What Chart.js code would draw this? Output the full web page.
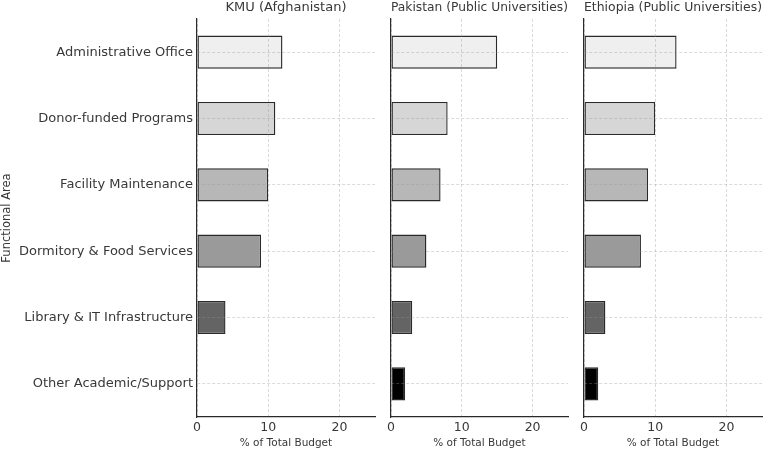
<!DOCTYPE html>
<html>
<head>
<meta charset="utf-8">
<script src="https://cdn.jsdelivr.net/npm/chart.js@4.4.1/dist/chart.umd.min.js"></script>
<style>
  html, body { margin: 0; padding: 0; background: #fff; }
  #wrap { position: relative; width: 768px; height: 451px; }
  #wrap canvas { position: absolute; left: 0; top: 0; }
</style>
</head>
<body>
<div id="wrap">
  <canvas id="c1" width="768" height="451"></canvas>
  <canvas id="c2" width="768" height="451"></canvas>
  <canvas id="c3" width="768" height="451"></canvas>
</div>
<script>
const areas = ['Administrative Office', 'Donor-funded Programs', 'Facility Maintenance',
               'Dormitory & Food Services', 'Library & IT Infrastructure', 'Other Academic/Support'];
const kmuValues = [12, 11, 10, 9, 4, 0];
const pakistanValues = [15, 8, 7, 5, 3, 2];
const ethiopiaValues = [13, 10, 9, 8, 3, 2];
const xTicks = [0, 10, 20];
const barColors = ['#efefef', '#d6d6d6', '#b7b7b7', '#9a9a9a', '#646464', '#000000'];

Chart.defaults.font.family = '"DejaVu Sans", sans-serif';

const textColor = '#383838';
const gridColor = 'rgba(150,150,150,0.35)';
const edgeColor = '#2a2a2a';

function makeChart(id, title, values, padLeft, padRight, showY) {
    const ctx = document.getElementById(id).getContext('2d');
    return new Chart(ctx, {
        type: 'bar',
        data: {
            labels: areas,
            datasets: [{
                data: values,
                backgroundColor: barColors,
                borderColor: edgeColor,
                borderWidth: 1.4,
                borderSkipped: false,
                barPercentage: 0.5,
                categoryPercentage: 1.0
            }]
        },
        options: {
            indexAxis: 'y',
            responsive: false,
            animation: false,
            devicePixelRatio: 1,
            layout: { padding: { left: padLeft, right: padRight, top: 0, bottom: 0 } },
            plugins: {
                legend: { display: false },
                tooltip: { enabled: false },
                title: {
                    display: true,
                    text: title,
                    fullSize: false,
                    color: textColor,
                    font: { size: 13, weight: 'normal' },
                    padding: { top: 0, bottom: 3.4 }
                }
            },
            scales: {
                x: {
                    min: 0,
                    max: 25,
                    afterBuildTicks: s => { s.ticks = xTicks.map(v => ({ value: v })); },
                    afterFit: s => { s.height = 34; },
                    ticks: { color: textColor, font: { size: 12.5 }, padding: 3 },
                    grid: { color: gridColor, drawTicks: false, z: 1 },
                    border: { display: true, color: edgeColor, width: 1.2, dash: [3, 2], z: 2 },
                    title: {
                        display: true,
                        text: '% of Total Budget',
                        color: textColor,
                        font: { size: 10.5 },
                        padding: { top: 0, bottom: 1.5 }
                    }
                },
                y: {
                    offset: true,
                    afterFit: s => { s.width = showY ? 197 : 0; },
                    ticks: { display: showY, color: textColor, font: { size: 13 }, padding: 4 },
                    grid: { color: gridColor, drawTicks: false, offset: false, z: 1 },
                    border: { display: true, color: edgeColor, width: 1.2, dash: [3, 2], z: 2 },
                    title: {
                        display: showY,
                        text: 'Functional Area',
                        color: textColor,
                        font: { size: 11.5 },
                        padding: 0
                    }
                }
            }
        }
    });
}

makeChart('c1', 'KMU (Afghanistan)', kmuValues, 0, 393, true);
makeChart('c2', 'Pakistan (Public Universities)', pakistanValues, 391, 200, false);
makeChart('c3', 'Ethiopia (Public Universities)', ethiopiaValues, 584, 6, false);
</script>
</body>
</html>
